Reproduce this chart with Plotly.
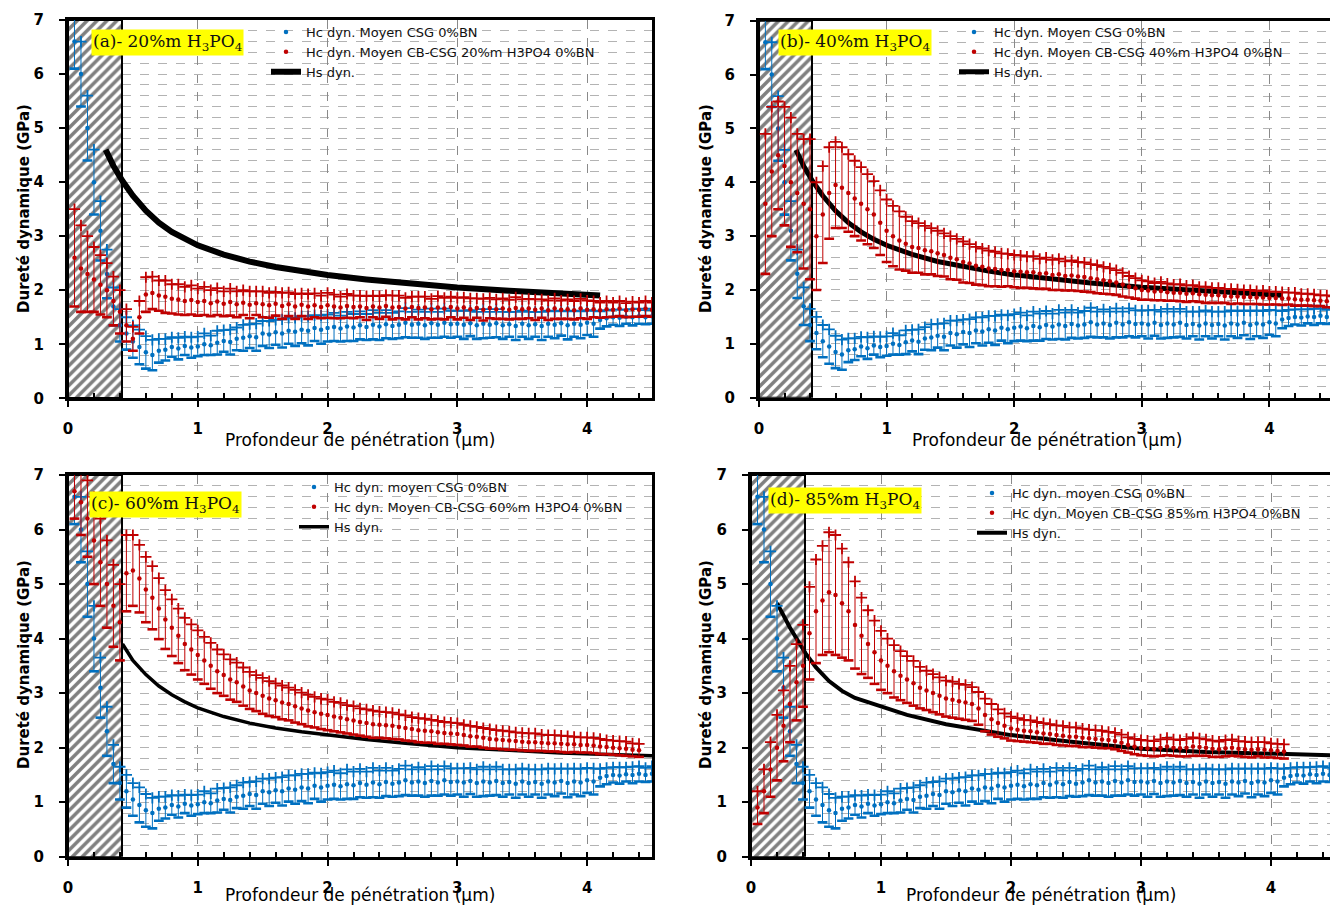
import numpy as np
import plotly.graph_objects as go

# ---------------- DATA ----------------
depth = [0.05, 0.10, 0.15, 0.20, 0.25, 0.30, 0.35, 0.40, 0.45, 0.50,
         0.55, 0.60, 0.65, 0.70, 0.75, 0.80, 0.85, 0.90, 0.95, 1.00,
         1.05, 1.10, 1.15, 1.20, 1.25, 1.30, 1.35, 1.40, 1.45, 1.50,
         1.55, 1.60, 1.65, 1.70, 1.75, 1.80, 1.85, 1.90, 1.95, 2.00,
         2.05, 2.10, 2.15, 2.20, 2.25, 2.30, 2.35, 2.40, 2.45, 2.50,
         2.55, 2.60, 2.65, 2.70, 2.75, 2.80, 2.85, 2.90, 2.95, 3.00,
         3.05, 3.10, 3.15, 3.20, 3.25, 3.30, 3.35, 3.40, 3.45, 3.50,
         3.55, 3.60, 3.65, 3.70, 3.75, 3.80, 3.85, 3.90, 3.95, 4.00,
         4.05, 4.10, 4.15, 4.20, 4.25, 4.30, 4.35, 4.40, 4.45, 4.50]

# Hc dyn. moyen CSG 0%BN (reference, same in all panels)
csg_mean = [6.6, 6.0, 5.0, 4.0, 3.1, 2.3, 1.7, 1.35, 1.2, 1.05,
            0.95, 0.85, 0.8, 0.88, 0.9, 0.95, 0.92, 0.97, 0.94, 0.96,
            1.0, 0.98, 1.03, 1.06, 1.04, 1.1, 1.12, 1.15, 1.13, 1.2,
            1.18, 1.22, 1.2, 1.25, 1.23, 1.27, 1.25, 1.3, 1.27, 1.3,
            1.32, 1.29, 1.33, 1.31, 1.35, 1.32, 1.36, 1.33, 1.37, 1.34,
            1.36, 1.4, 1.36, 1.38, 1.35, 1.39, 1.36, 1.4, 1.37, 1.38,
            1.36, 1.39, 1.35, 1.38, 1.36, 1.39, 1.35, 1.37, 1.34, 1.38,
            1.35, 1.37, 1.34, 1.38, 1.36, 1.39, 1.35, 1.38, 1.36, 1.4,
            1.38, 1.45, 1.48, 1.5, 1.49, 1.51, 1.5, 1.52, 1.5, 1.52]
csg_err = [0.5, 0.6, 0.6, 0.6, 0.55, 0.45, 0.35, 0.3, 0.3, 0.3,
           0.32, 0.3, 0.28, 0.22, 0.2, 0.18, 0.2, 0.17, 0.19, 0.18,
           0.2, 0.18, 0.22, 0.2, 0.23, 0.21, 0.24, 0.22, 0.25, 0.23,
           0.25, 0.23, 0.26, 0.24, 0.26, 0.25, 0.27, 0.24, 0.26, 0.25,
           0.26, 0.24, 0.27, 0.25, 0.26, 0.24, 0.27, 0.25, 0.26, 0.24,
           0.25, 0.27, 0.24, 0.26, 0.25, 0.27, 0.24, 0.26, 0.25, 0.24,
           0.26, 0.24, 0.25, 0.27, 0.24, 0.26, 0.25, 0.23, 0.26, 0.24,
           0.25, 0.23, 0.26, 0.24, 0.25, 0.23, 0.26, 0.24, 0.25, 0.23,
           0.24, 0.16, 0.15, 0.14, 0.15, 0.13, 0.15, 0.14, 0.13, 0.14]

# Hc dyn. Moyen CB-CSG 20%m H3PO4 0%BN
cb20_mean = [2.6, 2.4, 2.3, 2.2, 2.1, 2.0, 1.8, 1.6, 1.35, 1.1,
             1.5, 1.92, 1.95, 1.9, 1.88, 1.84, 1.83, 1.8, 1.82, 1.78,
             1.8, 1.76, 1.79, 1.75, 1.78, 1.74, 1.77, 1.73, 1.76, 1.74,
             1.72, 1.75, 1.71, 1.74, 1.7, 1.73, 1.7, 1.72, 1.69, 1.72,
             1.7, 1.68, 1.71, 1.69, 1.7, 1.67, 1.7, 1.68, 1.71, 1.68,
             1.69, 1.66, 1.69, 1.67, 1.68, 1.65, 1.68, 1.66, 1.69, 1.66,
             1.68, 1.65, 1.67, 1.64, 1.67, 1.65, 1.66, 1.64, 1.67, 1.65,
             1.66, 1.64, 1.66, 1.63, 1.66, 1.64, 1.65, 1.63, 1.66, 1.64,
             1.65, 1.63, 1.65, 1.64, 1.66, 1.63, 1.65, 1.64, 1.66, 1.64]
cb20_err = [0.9, 0.8, 0.7, 0.6, 0.55, 0.5, 0.45, 0.4, 0.3, 0.22,
            0.3, 0.32, 0.3, 0.28, 0.3, 0.27, 0.28, 0.26, 0.27, 0.25,
            0.26, 0.24, 0.25, 0.23, 0.25, 0.24, 0.23, 0.25, 0.22, 0.24,
            0.23, 0.22, 0.24, 0.22, 0.23, 0.21, 0.23, 0.22, 0.21, 0.23,
            0.22, 0.2, 0.22, 0.21, 0.2, 0.22, 0.2, 0.21, 0.2, 0.22,
            0.21, 0.2, 0.19, 0.21, 0.2, 0.19, 0.21, 0.2, 0.19, 0.2,
            0.19, 0.2, 0.18, 0.2, 0.19, 0.18, 0.19, 0.18, 0.2, 0.18,
            0.18, 0.19, 0.17, 0.18, 0.19, 0.17, 0.18, 0.17, 0.18, 0.17,
            0.15, 0.14, 0.15, 0.13, 0.14, 0.13, 0.14, 0.13, 0.14, 0.13]

# Hc dyn. Moyen CB-CSG 40%m H3PO4 0%BN
cb40_mean = [3.6, 4.2, 4.5, 4.3, 4.0, 3.8, 3.6, 3.5, 3.0, 3.4,
             3.8, 3.95, 3.9, 3.8, 3.7, 3.6, 3.5, 3.4, 3.25, 3.1,
             3.0, 2.92, 2.86, 2.8, 2.78, 2.74, 2.72, 2.68, 2.65, 2.6,
             2.57, 2.52, 2.49, 2.45, 2.43, 2.4, 2.39, 2.37, 2.37, 2.35,
             2.34, 2.33, 2.33, 2.3, 2.31, 2.28, 2.29, 2.26, 2.27, 2.25,
             2.24, 2.22, 2.2, 2.18, 2.16, 2.14, 2.1, 2.06, 2.03, 2.0,
             1.99, 1.97, 1.98, 1.96, 1.95, 1.95, 1.93, 1.94, 1.92, 1.91,
             1.9, 1.9, 1.89, 1.88, 1.88, 1.87, 1.87, 1.86, 1.86, 1.85,
             1.85, 1.84, 1.84, 1.83, 1.82, 1.82, 1.81, 1.8, 1.79, 1.78]
cb40_err = [1.3, 1.2, 1.0, 1.1, 1.2, 1.1, 1.2, 1.3, 1.0, 0.9,
            0.85, 0.8, 0.75, 0.72, 0.7, 0.68, 0.65, 0.62, 0.6, 0.58,
            0.56, 0.54, 0.5, 0.48, 0.46, 0.45, 0.43, 0.42, 0.4, 0.4,
            0.38, 0.38, 0.36, 0.35, 0.34, 0.33, 0.32, 0.31, 0.3, 0.3,
            0.3, 0.29, 0.3, 0.28, 0.29, 0.28, 0.29, 0.27, 0.28, 0.27,
            0.27, 0.26, 0.26, 0.25, 0.24, 0.23, 0.22, 0.2, 0.19, 0.18,
            0.17, 0.16, 0.17, 0.16, 0.15, 0.16, 0.15, 0.15, 0.14, 0.15,
            0.14, 0.14, 0.13, 0.14, 0.13, 0.13, 0.13, 0.12, 0.13, 0.12,
            0.12, 0.12, 0.11, 0.12, 0.11, 0.11, 0.11, 0.1, 0.11, 0.1]

# Hc dyn. Moyen CB-CSG 60%m H3PO4 0%BN
cb60_mean = [6.7, 6.5, 6.2, 5.8, 5.4, 5.0, 4.6, 4.3, 5.2, 5.25,
             5.1, 4.9, 4.75, 4.55, 4.35, 4.2, 4.05, 3.9, 3.8, 3.7,
             3.6, 3.5, 3.4, 3.33, 3.25, 3.2, 3.12, 3.05, 3.0, 2.95,
             2.9, 2.87, 2.83, 2.8, 2.76, 2.72, 2.68, 2.65, 2.62, 2.6,
             2.57, 2.55, 2.52, 2.5, 2.47, 2.45, 2.43, 2.42, 2.41, 2.4,
             2.38, 2.36, 2.34, 2.32, 2.31, 2.3, 2.28, 2.27, 2.26, 2.25,
             2.23, 2.21, 2.2, 2.18, 2.16, 2.15, 2.14, 2.13, 2.12, 2.11,
             2.1, 2.1, 2.09, 2.08, 2.08, 2.07, 2.06, 2.06, 2.05, 2.05,
             2.04, 2.02, 2.01, 2.0, 1.99, 1.98, 1.96, 1.95, None, None]
cb60_err = [0.5, 0.6, 0.7, 0.8, 0.8, 0.8, 0.75, 0.7, 0.7, 0.65,
            0.62, 0.6, 0.58, 0.56, 0.54, 0.52, 0.5, 0.48, 0.46, 0.45,
            0.43, 0.42, 0.4, 0.38, 0.37, 0.36, 0.35, 0.34, 0.33, 0.33,
            0.32, 0.31, 0.31, 0.3, 0.3, 0.29, 0.29, 0.28, 0.28, 0.28,
            0.27, 0.27, 0.26, 0.26, 0.25, 0.25, 0.25, 0.24, 0.24, 0.24,
            0.23, 0.23, 0.22, 0.22, 0.22, 0.21, 0.21, 0.2, 0.2, 0.2,
            0.19, 0.19, 0.18, 0.18, 0.18, 0.17, 0.17, 0.17, 0.16, 0.16,
            0.16, 0.16, 0.15, 0.15, 0.15, 0.15, 0.15, 0.14, 0.14, 0.14,
            0.14, 0.14, 0.13, 0.13, 0.13, 0.13, 0.12, 0.12, None, None]

# Hc dyn. Moyen CB-CSG 85%m H3PO4 0%BN
cb85_mean = [0.9, 1.2, 1.6, 2.0, 2.4, 2.8, 3.2, 3.5, 4.1, 4.5,
             4.7, 4.85, 4.8, 4.65, 4.5, 4.25, 4.05, 3.9, 3.75, 3.6,
             3.5, 3.4, 3.32, 3.25, 3.18, 3.1, 3.05, 3.0, 2.95, 2.9,
             2.88, 2.85, 2.83, 2.8, 2.72, 2.6, 2.52, 2.45, 2.4, 2.35,
             2.33, 2.31, 2.3, 2.28, 2.26, 2.25, 2.23, 2.22, 2.2, 2.2,
             2.18, 2.17, 2.16, 2.15, 2.14, 2.12, 2.09, 2.05, 2.02, 2.0,
             1.99, 1.98, 2.0, 2.02, 2.0, 1.99, 2.0, 2.02, 2.01, 2.0,
             1.98, 1.97, 1.99, 2.0, 1.98, 1.97, 1.96, 1.97, 1.96, 1.95,
             1.94, 1.93, None, None, None, None, None, None, None, None]
cb85_err = [0.3, 0.4, 0.5, 0.6, 0.65, 0.7, 0.7, 0.75, 0.85, 0.95,
            1.0, 1.1, 1.1, 1.0, 0.9, 0.8, 0.7, 0.62, 0.58, 0.54,
            0.5, 0.48, 0.45, 0.43, 0.41, 0.38, 0.36, 0.35, 0.34, 0.33,
            0.33, 0.32, 0.32, 0.31, 0.3, 0.3, 0.28, 0.25, 0.23, 0.22,
            0.21, 0.2, 0.2, 0.19, 0.19, 0.18, 0.18, 0.18, 0.17, 0.17,
            0.17, 0.16, 0.16, 0.16, 0.15, 0.15, 0.15, 0.14, 0.14, 0.14,
            0.14, 0.14, 0.15, 0.16, 0.15, 0.15, 0.16, 0.17, 0.16, 0.15,
            0.15, 0.14, 0.15, 0.15, 0.14, 0.14, 0.14, 0.13, 0.14, 0.13,
            0.13, 0.13, None, None, None, None, None, None, None, None]

# Hs dyn. (line)
hs_depth = [0.29, 0.35, 0.42, 0.5, 0.6, 0.7, 0.8, 0.9, 1.0, 1.2, 1.4, 1.6, 1.8,
            2.0, 2.3, 2.6, 3.0, 3.4, 3.8, 4.1]
hs_value = [4.6, 4.3, 4.02, 3.75, 3.47, 3.25, 3.08, 2.94, 2.83, 2.66, 2.53, 2.43, 2.35,
            2.28, 2.2, 2.13, 2.05, 1.99, 1.94, 1.9]
hs_c_depth = [0.42, 0.5, 0.6, 0.7, 0.8, 0.9, 1.0, 1.2, 1.4, 1.6, 1.8,
              2.0, 2.3, 2.6, 3.0, 3.4, 3.8, 4.1, 4.5]
hs_c_value = [3.9, 3.6, 3.34, 3.13, 2.97, 2.84, 2.73, 2.57, 2.45, 2.36, 2.29,
              2.23, 2.15, 2.08, 2.0, 1.95, 1.9, 1.88, 1.85]
hs_d_depth = [0.2, 0.3, 0.42, 0.5, 0.6, 0.7, 0.8, 1.0, 1.2, 1.5, 2.0, 2.5, 3.0, 3.5, 4.0, 4.5]
hs_d_value = [4.65, 4.2, 3.73, 3.47, 3.22, 3.04, 2.91, 2.75, 2.6, 2.43, 2.23, 2.1, 1.98, 1.92, 1.88, 1.86]

affected_depth = 0.415      # hatched zone (µm)
hardness_max = 7

panel_tags = ["(a)- 20%m H<sub>3</sub>PO<sub>4</sub>", "(b)- 40%m H<sub>3</sub>PO<sub>4</sub>",
              "(c)- 60%m H<sub>3</sub>PO<sub>4</sub>", "(d)- 85%m H<sub>3</sub>PO<sub>4</sub>"]
csg_names = ["Hc dyn. Moyen CSG 0%BN", "Hc dyn. Moyen CSG 0%BN",
             "Hc dyn. moyen CSG 0%BN", "Hc dyn. moyen CSG 0%BN"]
cb_names = ["Hc dyn. Moyen CB-CSG 20%m H3PO4 0%BN", "Hc dyn. Moyen CB-CSG 40%m H3PO4 0%BN",
            "Hc dyn. Moyen CB-CSG 60%m H3PO4 0%BN", "Hc dyn. Moyen CB-CSG 85%m H3PO4 0%BN"]
hs_name = "Hs dyn."
x_title = "Profondeur de pénétration (µm)"
y_title = "Dureté dynamique (GPa)"

# ---------------- FIGURE ----------------
W, H = 1330, 906
BLUE = "#0070C0"
RED = "#C00000"


def px(xp):
    return xp / W


def py(yp):
    return 1 - yp / H


panels = [
    dict(cb_mean=cb20_mean, cb_err=cb20_err, hs=(hs_depth, hs_value), hs_w=6,
         xdom=(68, 652), ydom=(398.3, 20), xmax=4.5, right=True,
         legend=(266, 17), tag=(91, 42), xt=(360, 440), yt=(24, 209)),
    dict(cb_mean=cb40_mean, cb_err=cb40_err, hs=(hs_depth, hs_value), hs_w=5,
         xdom=(759, 1330), ydom=(397.7, 20.7), xmax=(1330 - 759) / 127.6, right=False,
         legend=(954, 17), tag=(778, 42), xt=(1047, 440), yt=(706, 209)),
    dict(cb_mean=cb60_mean, cb_err=cb60_err, hs=(hs_c_depth, hs_c_value), hs_w=3.5,
         xdom=(68, 652), ydom=(856.7, 475), xmax=4.5, right=True,
         legend=(294, 472), tag=(89, 505), xt=(360, 895), yt=(24, 665)),
    dict(cb_mean=cb85_mean, cb_err=cb85_err, hs=(hs_d_depth, hs_d_value), hs_w=4,
         xdom=(751, 1330), ydom=(856.7, 475), xmax=(1330 - 751) / 130.0, right=False,
         legend=(972, 478), tag=(768, 500), xt=(1041, 895), yt=(706, 665)),
]

fig = go.Figure()
x_arr = np.array(depth, dtype=float)
tick_font = dict(family="DejaVu Sans", size=15, color="black", weight="bold")
annotations = []

for i, p in enumerate(panels):
    n = "" if i == 0 else str(i + 1)
    xa, ya = "x" + n, "y" + n
    leg = "legend" + n

    # hatched zone
    fig.add_trace(go.Bar(x=[0], y=[hardness_max], width=[affected_depth], offset=0,
                         xaxis=xa, yaxis=ya, showlegend=False, hoverinfo="skip",
                         marker=dict(color="white",
                                     line=dict(color="black", width=2),
                                     pattern=dict(shape="/", fgcolor="black", bgcolor="white",
                                                  size=7, solidity=0.5))))
    # Hs line
    fig.add_trace(go.Scatter(x=p["hs"][0], y=p["hs"][1], mode="lines", name=hs_name,
                             line=dict(color="black", width=p["hs_w"]),
                             xaxis=xa, yaxis=ya, legend=leg, legendrank=3))

    for mean, err, color, name, rank in [(csg_mean, csg_err, BLUE, csg_names[i], 1),
                                         (p["cb_mean"], p["cb_err"], RED, cb_names[i], 2)]:
        m = np.array(mean, dtype=float)
        e = np.array(err, dtype=float)
        fig.add_trace(go.Scatter(x=x_arr, y=m + e, mode="markers", showlegend=False,
                                 marker=dict(symbol="cross-thin", size=8, color=color,
                                             line=dict(color=color, width=1.8)),
                                 xaxis=xa, yaxis=ya, hoverinfo="skip"))
        fig.add_trace(go.Scatter(x=x_arr, y=m - e, mode="markers", showlegend=False,
                                 marker=dict(symbol="line-ew", size=7, color=color,
                                             line=dict(color=color, width=2.6)),
                                 xaxis=xa, yaxis=ya, hoverinfo="skip"))
        fig.add_trace(go.Scatter(x=x_arr, y=m, mode="markers", name=name,
                                 marker=dict(symbol="circle", size=4.5, color=color),
                                 error_y=dict(type="data", array=e, visible=True,
                                              thickness=1, width=0, color=color),
                                 xaxis=xa, yaxis=ya, legend=leg, legendrank=rank))

    axis_common = dict(showline=True, linecolor="black", linewidth=3, automargin=False,
                       ticks="outside", ticklen=6, tickwidth=2, tickcolor="black",
                       tickfont=tick_font, zeroline=False)
    fig.update_layout(**{
        "xaxis" + n: dict(axis_common, domain=[px(p["xdom"][0]), px(p["xdom"][1])],
                          range=[0, p["xmax"]], anchor=ya, dtick=1, tick0=0,
                          mirror=True, showgrid=True, gridcolor="#8a8a8a",
                          griddash="dash", gridwidth=1, ticklabelstandoff=9,
                          minor=dict(dtick=0.2, tick0=0, ticks="inside", ticklen=5,
                                     tickwidth=2, tickcolor="black", showgrid=False)),
        "yaxis" + n: dict(axis_common, domain=[py(p["ydom"][0]), py(p["ydom"][1])],
                          range=[0, hardness_max], anchor=xa, dtick=1, tick0=0,
                          mirror=p["right"], showgrid=True, gridcolor="#b3b3b3",
                          griddash="dash", gridwidth=1, ticklabelstandoff=12,
                          minor=dict(dtick=0.2, tick0=0, showgrid=True, gridcolor="#b3b3b3",
                                     griddash="dash", gridwidth=1)),
        leg: dict(x=px(p["legend"][0]), y=py(p["legend"][1]), xanchor="left", yanchor="top",
                  bgcolor="rgba(0,0,0,0)", borderwidth=0, tracegroupgap=0,
                  font=dict(family="DejaVu Sans", size=13, color="#111111")),
    })

    annotations.append(dict(text=panel_tags[i], x=px(p["tag"][0]), y=py(p["tag"][1]),
                            xref="paper", yref="paper", xanchor="left", yanchor="middle",
                            showarrow=False, bgcolor="#FFFF00", borderpad=1,
                            font=dict(family="DejaVu Serif", size=17, color="#111111")))
    annotations.append(dict(text=x_title, x=px(p["xt"][0]), y=py(p["xt"][1]),
                            xref="paper", yref="paper", xanchor="center", yanchor="middle",
                            showarrow=False,
                            font=dict(family="DejaVu Sans", size=17, color="black")))
    annotations.append(dict(text=y_title, x=px(p["yt"][0]), y=py(p["yt"][1]),
                            xref="paper", yref="paper", xanchor="center", yanchor="middle",
                            showarrow=False, textangle=-90,
                            font=dict(family="DejaVu Sans", size=15, color="black",
                                      weight="bold")))

fig.update_layout(width=W, height=H, margin=dict(l=0, r=0, t=0, b=0, autoexpand=False),
                  paper_bgcolor="white", plot_bgcolor="white",
                  annotations=annotations, barmode="overlay", bargap=0)

fig.write_html("out.html", config={"displayModeBar": False},
               post_script="document.body.style.margin='0px';document.body.style.padding='0px';")
